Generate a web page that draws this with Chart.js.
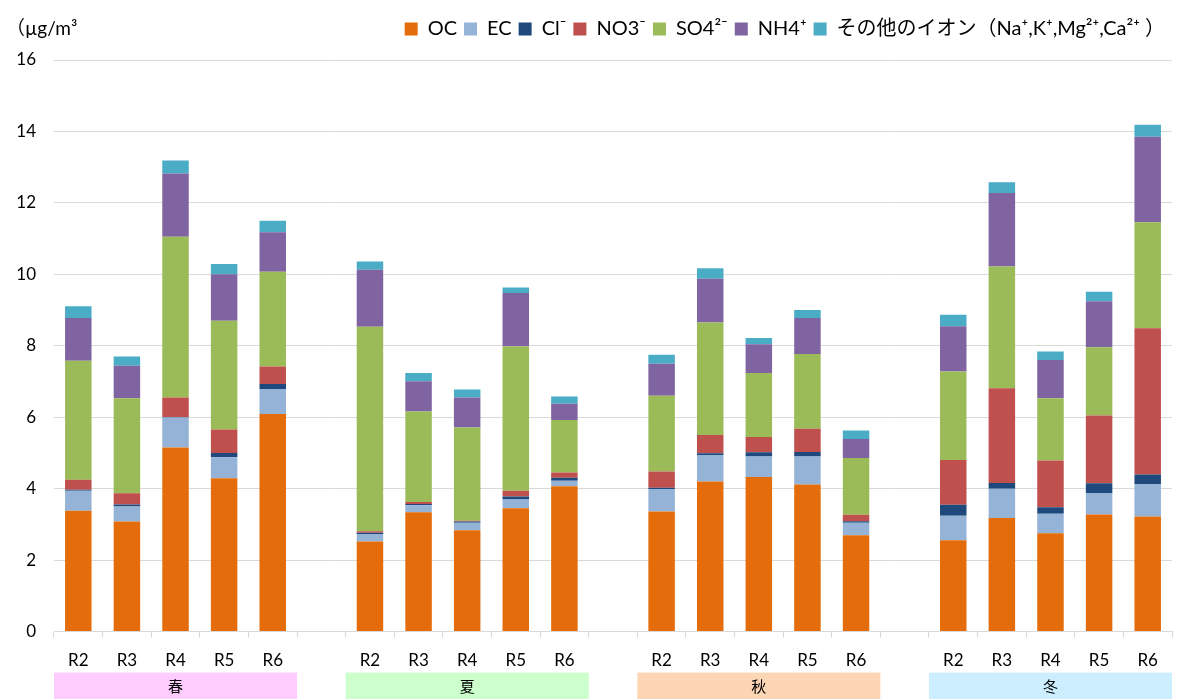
<!DOCTYPE html>
<html>
<head>
<meta charset="utf-8">
<script src="https://cdn.jsdelivr.net/npm/chart.js@4.4.1/dist/chart.umd.min.js"></script>
<style>
  html, body { margin: 0; padding: 0; background: #fff; }
  #wrap { width: 1183px; height: 699px; position: relative; }
</style>
</head>
<body>
<div id="wrap"><canvas id="chart"></canvas></div>
<script>
// categories (empty strings are the gaps between seasons)
const categories = ["R2", "R3", "R4", "R5", "R6", "",
                    "R2", "R3", "R4", "R5", "R6", "",
                    "R2", "R3", "R4", "R5", "R6", "",
                    "R2", "R3", "R4", "R5", "R6"];
const seasons = ["春", "夏", "秋", "冬"];
const seasonColors = ["#ffccff", "#ccffcc", "#fcd5b5", "#cdeeff"];

// component values (µg/m3), spring / summer / autumn / winter, R2..R6
const oc    = [3.38, 3.08, 5.15, 4.29, 6.09, null, 2.52, 3.34, 2.84, 3.45, 4.07, null, 3.36, 4.20, 4.33, 4.12, 2.70, null, 2.56, 3.18, 2.75, 3.28, 3.22];
const ec    = [0.56, 0.42, 0.84, 0.59, 0.70, null, 0.21, 0.20, 0.21, 0.25, 0.15, null, 0.63, 0.74, 0.57, 0.78, 0.35, null, 0.68, 0.82, 0.55, 0.60, 0.91];
const cl    = [0.03, 0.06, 0.02, 0.12, 0.14, null, 0.04, 0.03, 0.03, 0.08, 0.09, null, 0.04, 0.05, 0.12, 0.13, 0.04, null, 0.31, 0.16, 0.18, 0.27, 0.27];
const no3   = [0.28, 0.31, 0.54, 0.66, 0.49, null, 0.04, 0.06, 0.02, 0.16, 0.14, null, 0.45, 0.51, 0.43, 0.65, 0.18, null, 1.25, 2.65, 1.31, 1.90, 4.09];
const so4   = [3.33, 2.66, 4.50, 3.04, 2.65, null, 5.72, 2.53, 2.61, 4.05, 1.47, null, 2.12, 3.15, 1.79, 2.09, 1.59, null, 2.48, 3.41, 1.74, 1.91, 2.97];
const nh4   = [1.20, 0.91, 1.77, 1.30, 1.11, null, 1.60, 0.85, 0.84, 1.49, 0.46, null, 0.90, 1.23, 0.80, 1.01, 0.53, null, 1.27, 2.06, 1.07, 1.29, 2.39];
const other = [0.33, 0.26, 0.37, 0.29, 0.32, null, 0.23, 0.23, 0.23, 0.15, 0.20, null, 0.25, 0.29, 0.18, 0.22, 0.24, null, 0.32, 0.30, 0.24, 0.26, 0.34];

const yTicks = [0, 2, 4, 6, 8, 10, 12, 14, 16];

const FONT = "Lato, 'Noto Sans CJK JP', 'DejaVu Sans', sans-serif";

// extra room under the legend so the plot starts lower
const legendGap = {
  id: "legendGap",
  beforeInit(chart) {
    const fit = chart.legend.fit;
    chart.legend.fit = function () {
      fit.bind(chart.legend)();
      this.height += 11;
    };
  }
};

// draws the unit label and the season bands under the x axis
const extras = {
  id: "extras",
  afterDraw(chart) {
    const c = chart.ctx;
    const x = chart.scales.x;
    const area = chart.chartArea;
    c.save();
    c.fillStyle = "#000";
    c.font = "19px " + FONT;
    c.textBaseline = "middle";
    c.textAlign = "left";
    c.fillText("（µg/m³", 6, 29);

    const half = (x.getPixelForValue(1) - x.getPixelForValue(0)) / 2;
    seasons.forEach((s, i) => {
      const first = i * 6, last = i * 6 + 4;
      const x0 = x.getPixelForValue(first) - half;
      const x1 = x.getPixelForValue(last) + half;
      const top = area.bottom + 41;
      c.fillStyle = seasonColors[i];
      c.fillRect(x0, top, x1 - x0, chart.height - top);
      c.fillStyle = "#000";
      c.textAlign = "center";
      c.font = "15px " + FONT;
      c.fillText(s, (x0 + x1) / 2, top + (chart.height - top) / 2 + 1);
    });
    c.restore();
  }
};

const mk = (label, data, color) => ({ label, data, backgroundColor: color, borderWidth: 0 });

new Chart(document.getElementById("chart"), {
  type: "bar",
  data: {
    labels: categories,
    datasets: [
      mk("OC", oc, "#e46c0a"),
      mk("EC", ec, "#95b3d7"),
      mk("Cl⁻", cl, "#1f497d"),
      mk("NO3⁻", no3, "#c0504d"),
      mk("SO4²⁻", so4, "#9bbb59"),
      mk("NH4⁺", nh4, "#8064a2"),
      mk("その他のイオン（Na⁺,K⁺,Mg²⁺,Ca²⁺ ）", other, "#4bacc6")
    ]
  },
  options: {
    responsive: true,
    maintainAspectRatio: false,
    animation: false,
    datasets: { bar: { categoryPercentage: 1, barPercentage: 0.545 } },
    layout: { padding: { left: 0, right: 11, top: 12, bottom: 15 } },
    plugins: {
      legend: {
        position: "top",
        align: "end",
        labels: {
          color: "#000",
          boxWidth: 13,
          boxHeight: 13,
          padding: 7,
          font: { family: FONT, size: 20 }
        }
      },
      tooltip: { enabled: false }
    },
    scales: {
      x: {
        stacked: true,
        grid: { display: true, drawOnChartArea: false, drawTicks: true, tickLength: 6, color: "#d9d9d9", offset: true },
        border: { display: true, color: "#d9d9d9" },
        ticks: { color: "#000", font: { family: FONT, size: 17 }, padding: 13, autoSkip: false, maxRotation: 0 }
      },
      y: {
        stacked: true,
        min: 0,
        max: 16,
        afterBuildTicks: (s) => { s.ticks = yTicks.map(v => ({ value: v })); },
        afterFit: (s) => { s.width = 54; },
        grid: { color: "#d9d9d9", drawTicks: false },
        border: { display: false },
        ticks: { color: "#000", font: { family: FONT, size: 17 }, padding: 18 }
      }
    }
  },
  plugins: [legendGap, extras]
});
</script>
</body>
</html>
